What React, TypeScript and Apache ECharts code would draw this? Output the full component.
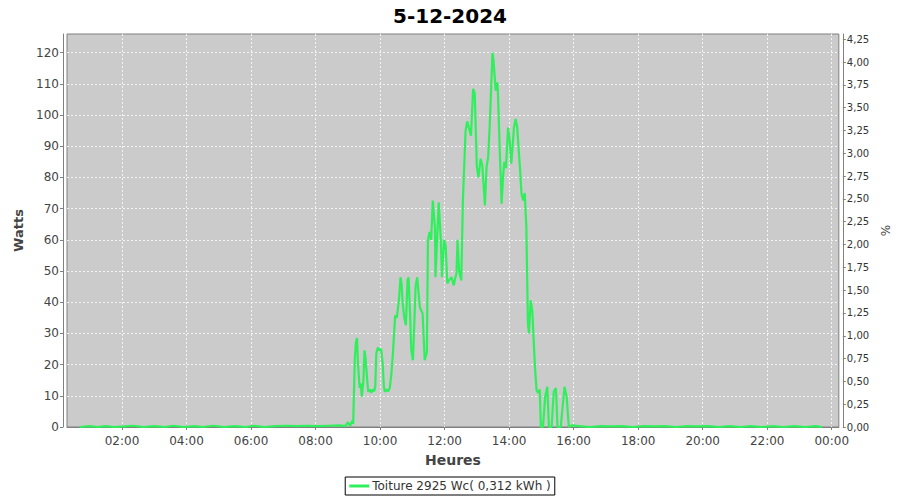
import React, { useEffect, useRef } from 'react';
import * as echarts from 'echarts';

const TITLE = '5-12-2024';
const SERIES_NAME = 'Toiture 2925 Wc( 0,312 kWh )';
const PEAK_WC = 2925;
const X_NAME = 'Heures';
const Y_NAME_LEFT = 'Watts';
const Y_NAME_RIGHT = '%';

const TIMES: string[] = [
  '00:41', '01:00', '01:15', '01:30', '01:45', '02:05', '02:20', '02:40', '03:00', '03:20',
  '03:35', '03:55', '04:15', '04:30', '04:50', '05:10', '05:30', '05:50', '06:05', '06:25',
  '06:45', '07:05', '07:25', '07:45', '08:05', '08:25', '08:45', '08:55', '09:00', '09:04',
  '09:08', '09:10', '09:13', '09:15', '09:17', '09:19', '09:22', '09:24', '09:26', '09:29',
  '09:31', '09:33', '09:36', '09:38', '09:41', '09:44', '09:46', '09:49', '09:51', '09:53',
  '09:56', '09:59', '10:02', '10:05', '10:07', '10:09', '10:12', '10:15', '10:18', '10:21',
  '10:24', '10:28', '10:31', '10:35', '10:38', '10:40', '10:42', '10:45', '10:48', '10:51',
  '10:53', '10:56', '10:58', '11:01', '11:03', '11:06', '11:09', '11:11', '11:14', '11:16',
  '11:19', '11:23', '11:27', '11:29', '11:32', '11:35', '11:38', '11:42', '11:43', '11:46',
  '11:49', '11:53', '11:55', '11:59', '12:02', '12:05', '12:08', '12:13', '12:17', '12:20',
  '12:22', '12:24', '12:27', '12:31', '12:34', '12:39', '12:42', '12:45', '12:49', '12:53',
  '12:56', '13:00', '13:03', '13:07', '13:10', '13:15', '13:18', '13:21', '13:24', '13:29',
  '13:31', '13:35', '13:38', '13:39', '13:43', '13:46', '13:49', '13:51', '13:54', '13:58',
  '14:01', '14:04', '14:09', '14:12', '14:15', '14:20', '14:23', '14:26', '14:29', '14:32',
  '14:35', '14:37', '14:40', '14:43', '14:48', '14:51', '14:54', '14:57', '14:59', '15:03',
  '15:07', '15:11', '15:14', '15:19', '15:23', '15:27', '15:30', '15:36', '15:43', '15:47',
  '15:51', '15:56', '16:10', '16:30', '16:50', '17:10', '17:30', '17:50', '18:10', '18:30',
  '18:50', '19:10', '19:30', '19:50', '20:10', '20:30', '20:50', '21:10', '21:30', '21:50',
  '22:10', '22:30', '22:50', '23:10', '23:30', '23:42',
];

const WATTS: number[] = [
  0, 0.3, 0, 0.3, 0, 0.2, 0.4, 0, 0.3, 0,
  0.4, 0, 0.3, 0, 0.4, 0, 0.3, 0, 0.4, 0,
  0.3, 0.4, 0.3, 0.4, 0.3, 0.4, 0.5, 0.3, 1.5, 0.3,
  2.0, 1.0, 22, 27, 28.5, 20, 12.5, 14, 9.7, 15,
  24.6, 22, 15, 11.3, 12, 11, 12, 11.5, 13, 23.6,
  25.5, 24.5, 25, 20, 13, 11.3, 12, 11.5, 12.5, 17,
  24, 35.8, 35, 40.6, 48, 46, 39.7, 35, 32.6, 47,
  48, 35, 24.6, 21.4, 30, 45, 48, 44, 38.5, 37.5,
  36.5, 21.4, 24, 59.8, 62.5, 60, 72.6, 64, 48, 60,
  72, 60, 48, 60, 58, 46, 47, 48, 45.4, 48,
  49, 60, 50, 47, 72.6, 95, 98, 96, 93.4, 108.4,
  107, 83.3, 80, 86, 84, 71, 83.3, 86.5, 97, 120,
  117.4, 107.8, 110.5, 107.8, 86.5, 71.6, 81, 85, 83, 96,
  91.8, 84.4, 96, 98.8, 96, 83.3, 74.8, 72.6, 75, 64,
  33, 30, 40.6, 37.4, 19.3, 11.8, 10.9, 12, 0, 0,
  9.7, 12.9, 0, 0, 11.3, 12.5, 0, 0, 12.9, 9.7,
  0, 0.5, 0.3, 0, 0.3, 0.2, 0.3, 0, 0.3, 0.2,
  0.3, 0, 0.3, 0.2, 0.3, 0, 0.3, 0, 0.3, 0,
  0.3, 0, 0.3, 0, 0.3, 0,
];

const X_MIN = 0.295;
const X_MAX = 24.22;
const Y_MAX = 126;

const toHours = (s: string) => {
  const [h, m] = s.split(':').map(Number);
  return h + m / 60;
};

export default function App() {
  const ref = useRef<HTMLDivElement>(null);
  useEffect(() => {
    if (!ref.current) return;
    const chart = echarts.init(ref.current, undefined, { renderer: 'svg' });
    const font = 'DejaVu Sans';
    const axisLineStyle = { color: '#808080', width: 1 };
    const gridLine = { color: '#f4f4f4', type: [2, 2], width: 1 };
    const data = TIMES.map((t, i) => [toHours(t), WATTS[i]]);
    chart.setOption({
      animation: false,
      backgroundColor: '#ffffff',
      textStyle: { fontFamily: font },
      title: {
        text: TITLE,
        left: 'center',
        top: 1,
        textStyle: { fontFamily: font, fontSize: 20, fontWeight: 'bold', color: '#000' },
      },
      legend: {
        data: [{ name: SERIES_NAME, icon: 'rect' }],
        left: 'center',
        top: 477,
        itemWidth: 20,
        itemHeight: 3,
        itemGap: 4,
        padding: [3, 4, 3, 4],
        borderColor: '#000',
        borderWidth: 1,
        textStyle: { fontFamily: font, fontSize: 12, color: '#333', padding: [0, 0, 0, -2] },
      },
      grid: {
        left: 67,
        right: 61,
        top: 34,
        bottom: 73,
        show: true,
        backgroundColor: '#cbcbcb',
        borderColor: '#808080',
        borderWidth: 1,
      },
      xAxis: {
        type: 'value',
        min: X_MIN,
        max: X_MAX,
        minInterval: 2,
        maxInterval: 2,
        splitNumber: 12,
        offset: 4,
        name: X_NAME,
        nameLocation: 'middle',
        nameGap: 22,
        nameTextStyle: { fontFamily: font, fontSize: 14, fontWeight: 'bold', color: '#444' },
        axisLine: { show: true, lineStyle: axisLineStyle },
        axisTick: { show: true, length: 3, lineStyle: axisLineStyle },
        axisLabel: {
          showMinLabel: false,
          showMaxLabel: false,
          margin: 4,
          fontFamily: font,
          fontSize: 12,
          color: '#444',
          formatter: (v: number) => String(Math.round(v) % 24).padStart(2, '0') + ':00',
        },
        splitLine: { show: true, showMinLine: false, showMaxLine: false, lineStyle: gridLine },
      },
      yAxis: [
        {
          type: 'value',
          min: 0,
          max: Y_MAX,
          interval: 10,
          offset: 4,
          name: Y_NAME_LEFT,
          nameLocation: 'middle',
          nameGap: 38,
          nameTextStyle: { fontFamily: font, fontSize: 13, fontWeight: 'bold', color: '#444' },
          axisLine: { show: true, lineStyle: axisLineStyle },
          axisTick: { show: true, length: 3, lineStyle: axisLineStyle },
          axisLabel: { showMaxLabel: false, margin: 4, fontFamily: font, fontSize: 12, color: '#444' },
          splitLine: { show: true, showMinLine: false, showMaxLine: false, lineStyle: gridLine },
        },
        {
          type: 'value',
          position: 'right',
          min: 0,
          max: (Y_MAX / PEAK_WC) * 100,
          interval: 0.25,
          offset: 4,
          name: Y_NAME_RIGHT,
          nameLocation: 'middle',
          nameGap: 36,
          nameTextStyle: { fontFamily: font, fontSize: 12, color: '#444' },
          axisLine: { show: true, lineStyle: axisLineStyle },
          axisTick: { show: true, length: 3, lineStyle: axisLineStyle },
          axisLabel: {
            showMaxLabel: false,
            margin: 4,
            fontFamily: font,
            fontSize: 10,
            color: '#333',
            formatter: (v: number) => v.toFixed(2).replace('.', ','),
          },
          splitLine: { show: false },
        },
      ],
      series: [
        {
          name: SERIES_NAME,
          type: 'line',
          data,
          showSymbol: false,
          symbol: 'none',
          color: '#2ff05c',
          lineStyle: { color: '#2ff05c', width: 2.2 },
          clip: true,
        },
      ],
    });
    return () => chart.dispose();
  }, []);
  return <div ref={ref} style={{ position: 'fixed', left: 0, top: 0, width: 900, height: 500 }} />;
}
